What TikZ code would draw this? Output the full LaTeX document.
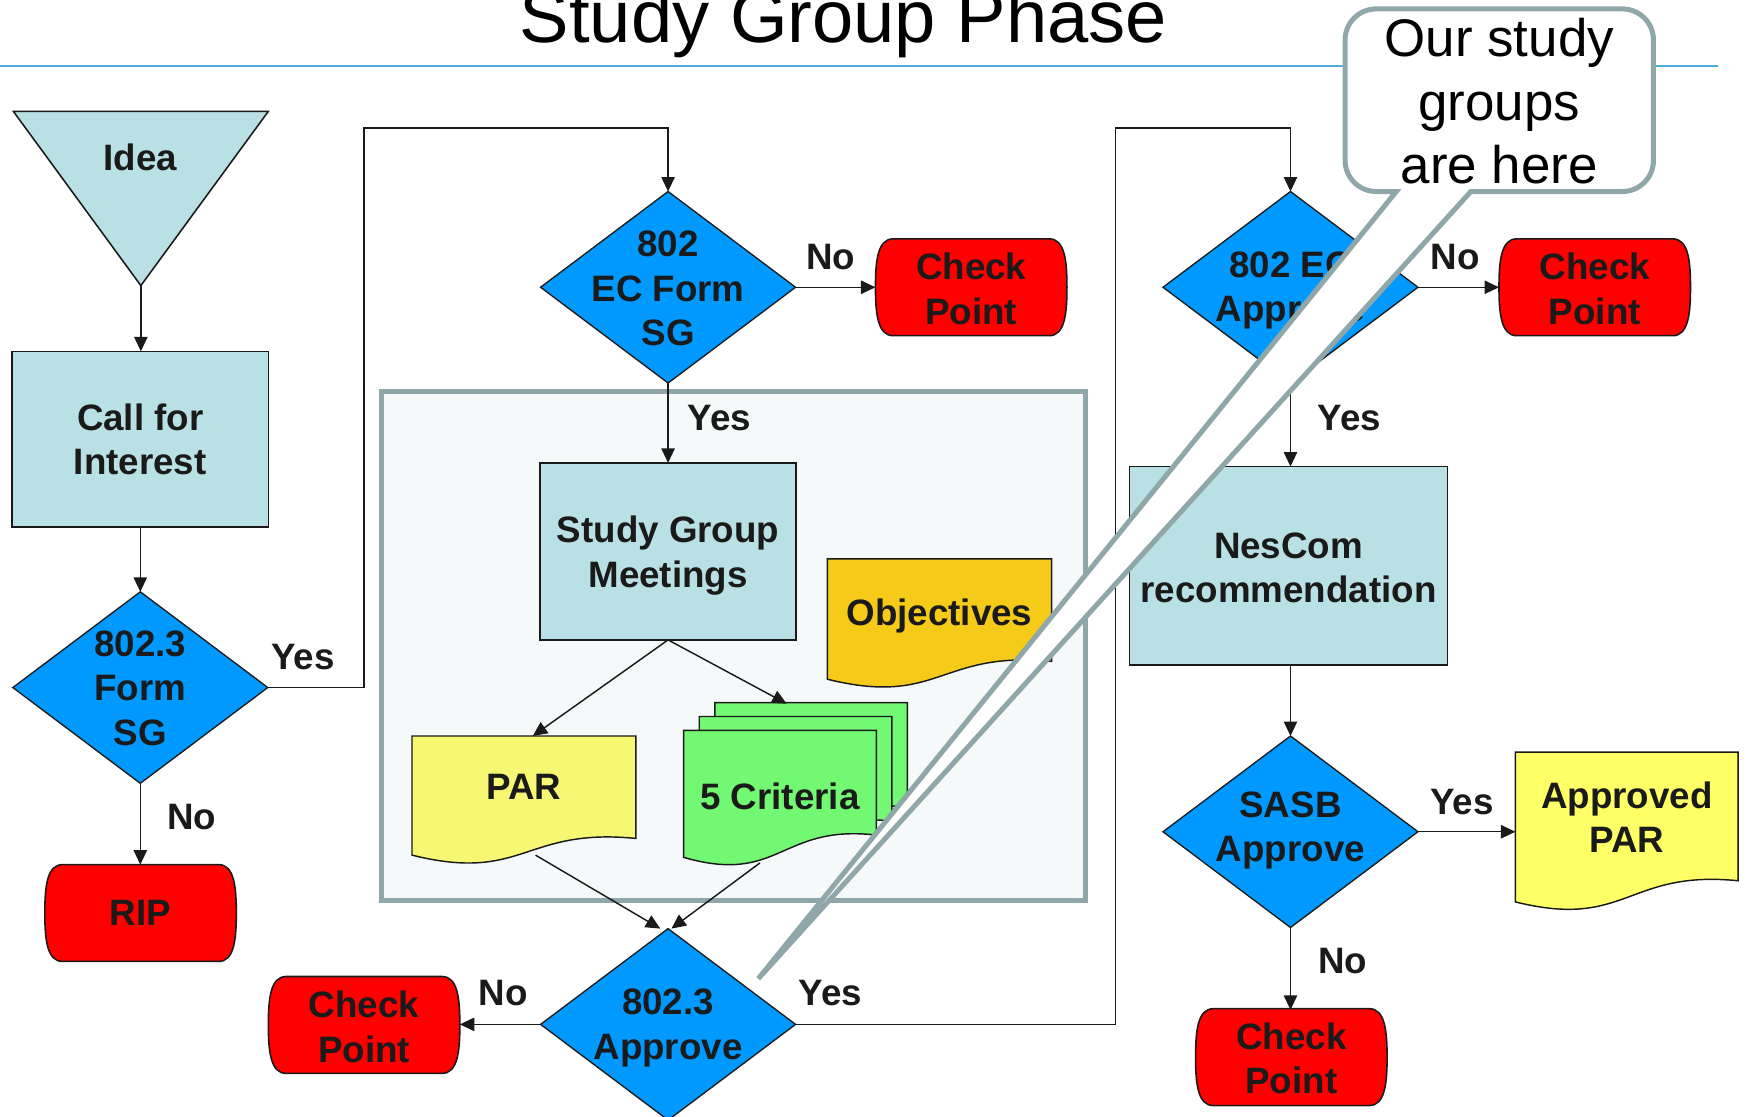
\documentclass[tikz,border=0pt]{standalone}
\usepackage{fontspec}
\setmainfont{Liberation Sans}
\usetikzlibrary{arrows.meta,shapes.geometric}

\definecolor{boxblue}{RGB}{185,224,228}
\definecolor{diablue}{RGB}{0,153,255}
\definecolor{cpred}{RGB}{255,0,0}
\definecolor{objgold}{RGB}{246,202,24}
\definecolor{paryel}{RGB}{247,247,115}
\definecolor{aparyel}{RGB}{255,255,102}
\definecolor{critgreen}{RGB}{114,248,114}
\definecolor{contfill}{RGB}{245,249,250}
\definecolor{contline}{RGB}{143,167,168}
\definecolor{titleline}{RGB}{75,172,220}
\definecolor{ink}{RGB}{26,26,26}

\newcommand{\docshape}[6]{%
  \path[docline,fill=#6] (#1,#2) -- (#3,#2) -- (#3,#4)
    .. controls ({(#1+#3)/2},{#4-10}) and ({(#1+#3)/2},{#5+25}) .. (#1,#5) -- cycle;}

\newcommand{\termshape}[2]{%
  \path[termline] ({#1-70},{#2-43.5}) -- ({#1+70},{#2-43.5})
    .. controls ({#1+84},{#2-43.5}) and ({#1+86},{#2-24}) .. ({#1+86},{#2})
    .. controls ({#1+86},{#2+24}) and ({#1+84},{#2+43.5}) .. ({#1+70},{#2+43.5})
    -- ({#1-70},{#2+43.5})
    .. controls ({#1-84},{#2+43.5}) and ({#1-86},{#2+24}) .. ({#1-86},{#2})
    .. controls ({#1-86},{#2-24}) and ({#1-84},{#2-43.5}) .. ({#1-70},{#2-43.5}) -- cycle;}

\begin{document}
\begin{tikzpicture}[x=1pt,y=-1pt,
  lbl/.style={font=\fontsize{33}{40}\selectfont\bfseries, text=ink, inner sep=0pt, outer sep=0pt, align=center},
  procbox/.style={lbl, draw=ink, line width=1.4pt, fill=boxblue, rectangle},
  decision/.style={draw=ink, line width=1.2pt, fill=diablue, diamond, inner sep=0pt, outer sep=0pt, minimum width=229pt, minimum height=172pt},
  terminal/.style={lbl, rectangle, minimum width=172pt, minimum height=87pt},
  termline/.style={draw=ink, line width=1.4pt, fill=cpred},
  docline/.style={draw=ink, line width=1.3pt},
  conn/.style={draw=ink, line width=1.3pt, -{Triangle[length=13pt,width=12pt]}},
  callline/.style={draw=contline, line width=4.5pt, fill=white}
]
\useasboundingbox (0,0) rectangle (1569,1003);

% title
\draw[titleline, line width=2pt] (0,59.5) -- (1543,59.5);
\node[font=\fontsize{66.6}{70}\selectfont, text=black, anchor=base, inner sep=0pt] (title) at (757.5,38) {Study Group Phase};

% container
\path[draw=contline, line width=4.5pt, fill=contfill] (343,352) rectangle (975,809);

% left column
\path[draw=ink, line width=1.4pt, fill=boxblue] (12,100) -- (241,100) -- (126.5,256.5) -- cycle;
\coordinate (ideaTip) at (126.5,256.5);
\node[lbl] (idea) at (126,141) {Idea};
\node[procbox, minimum width=230pt, minimum height=158pt] (call) at (126,394.5) {Call for\\Interest};
\node[decision] (formsg) at (126,617.5) {};
\node[lbl] (formsgT) at (126,618) {802.3\\Form\\SG};
\termshape{126.25}{820}
\node[terminal] (rip) at (126.25,820) {RIP};

% middle column
\node[decision] (ecform) at (600,258) {};
\node[lbl] (ecformT) at (600,259) {802\\EC Form\\SG};
\termshape{872.25}{258}
\node[terminal] (cp1) at (872.25,259.5) {Check\\Point};
\node[procbox, minimum width=230pt, minimum height=159pt] (sgm) at (600,495.2) {};
\node[lbl] (sgmT) at (600,499) {Study Group\\Meetings};

\docshape{743}{502}{944.5}{594}{610}{objgold}
\node[lbl, minimum width=201pt, minimum height=92pt] (obj) at (843.7,553) {Objectives};

\docshape{370}{661}{571}{753}{768}{paryel}
\node[lbl, minimum width=201pt, minimum height=92pt] (par) at (470.5,707) {PAR};

\docshape{642}{631}{815}{725}{745}{critgreen}
\docshape{628}{643.5}{801}{737.5}{757.5}{critgreen}
\docshape{614}{656}{787}{750}{770}{critgreen}
\node[lbl, minimum width=173pt, minimum height=116pt] (crit) at (700.5,715) {5 Criteria};

\node[decision] (approve) at (600,920) {};
\node[lbl] (approveT) at (600,923) {802.3\\Approve};
\termshape{327}{920.5}
\node[terminal] (cp2) at (327,922) {Check\\Point};

% right column
\node[decision] (ecapprove) at (1159,258) {};
\node[lbl] (ecapproveT) at (1159,261) {802 EC\\Approve};
\termshape{1432.25}{258}
\node[terminal] (cp3) at (1432.25,259.5) {Check\\Point};
\node[procbox, minimum width=285.5pt, minimum height=178pt] (nescom) at (1157.25,508) {};
\node[lbl] (nescomT) at (1157.25,510) {NesCom\\recommendation};
\node[decision] (sasb) at (1159,747) {};
\node[lbl] (sasbT) at (1159,746) {SASB\\Approve};
\docshape{1361}{675.5}{1561}{791}{810}{aparyel}
\node[lbl, minimum width=200pt, minimum height=115pt] (apar) at (1461,734) {Approved\\PAR};
\termshape{1159.75}{949.4}
\node[terminal] (cp4) at (1159.75,950.5) {Check\\Point};

% junction points
\coordinate (jA) at (327,115);
\coordinate (jB) at (1002,115);

% connectors
\draw[conn] (ideaTip) -- (ideaTip |- call.north);
\draw[conn] (call.south) -- (formsg.north);
\draw[conn] (formsg.south) -- (formsg.south |- rip.north);
\draw[conn] (formsg.east) -| (jA) -| (ecform.north);
\draw[conn] (ecform.east) -- (ecform.east -| cp1.west);
\draw[conn] (ecform.south) -- (sgm.north);
\draw[conn] (sgm.south) -- ([xshift=8pt]par.north);
\draw[conn] (sgm.south) -- ([xshift=6pt,yshift=25pt]crit.north);
\draw[conn] ([xshift=10.5pt,yshift=-15pt]par.south) -- ([xshift=-7pt]approve.north);
\draw[conn] ([xshift=-18pt,yshift=-2pt]crit.south) -- ([xshift=3pt]approve.north);
\draw[conn] (approve.west) -- (approve.west -| cp2.east);
\draw[conn] (approve.east) -| (jB) -| (ecapprove.north);
\draw[conn] (ecapprove.east) -- (ecapprove.east -| cp3.west);
\draw[conn] (ecapprove.south) -- (ecapprove.south |- nescom.north);
\draw[conn] (nescom.south -| sasb.north) -- (sasb.north);
\draw[conn] (sasb.east) -- (sasb.east -| apar.west);
\draw[conn] (sasb.south) -- (sasb.south |- cp4.north);

% connector labels
\node[lbl] (l1) at (272,590) {Yes};
\node[lbl] (l2) at (172,734) {No};
\node[lbl] (l3) at (746,231) {No};
\node[lbl] (l4) at (646,375) {Yes};
\node[lbl] (l5) at (452,892) {No};
\node[lbl] (l6) at (746,892) {Yes};
\node[lbl] (l7) at (1307,231) {No};
\node[lbl] (l8) at (1212,375) {Yes};
\node[lbl] (l9) at (1313,720) {Yes};
\node[lbl] (l10) at (1206,863) {No};

% callout
\path[callline] (1321,172) -- (1457,172) .. controls (1472.5,172) and (1485,159.5) .. (1485,144)
  -- (1485,36) .. controls (1485,20.5) and (1472.5,8) .. (1457,8)
  -- (1236,8) .. controls (1220.5,8) and (1208,20.5) .. (1208,36)
  -- (1208,144) .. controls (1208,159.5) and (1220.5,172) .. (1236,172)
  -- (1254,172) -- (681,879) -- cycle;
\node[font=\fontsize{47.5}{57}\selectfont, align=center, inner sep=0pt, text=black] (callout) at (1346.5,91) {Our study\\groups\\are here};
\end{tikzpicture}
\end{document}
